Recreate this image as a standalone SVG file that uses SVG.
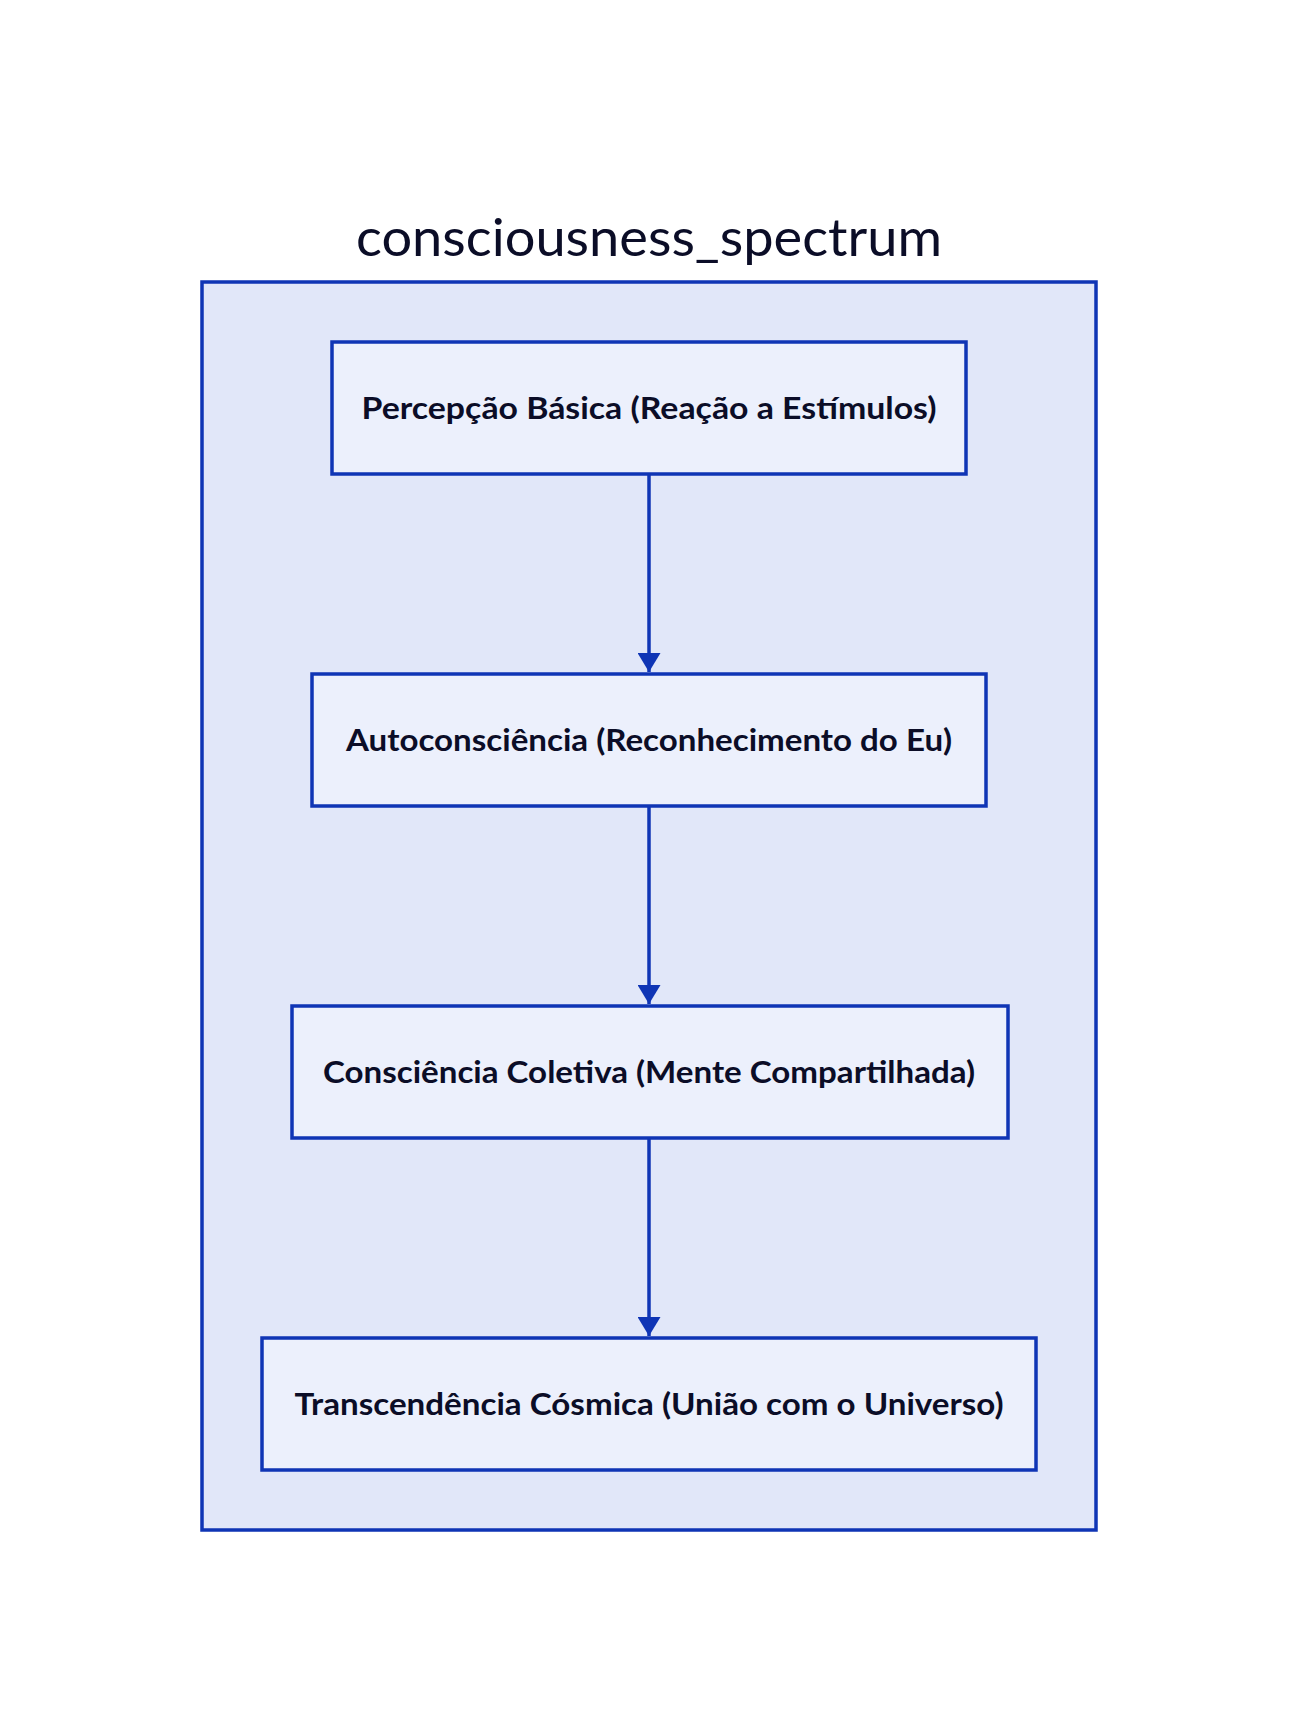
<svg xmlns="http://www.w3.org/2000/svg" width="1298" height="1732" viewBox="0 0 1298 1732">
  <style>
    .bg { fill: #ffffff; }
    .cluster { fill: #e1e7f9; stroke: #0f35b5; stroke-width: 3.5; }
    .node rect { fill: #ecf0fc; stroke: #0f35b5; stroke-width: 3.5; }
    .node text { font-family: Lato, "Noto Sans", "Liberation Sans", sans-serif; font-weight: 700; font-size: 31px; fill: #0b0d27; text-anchor: middle; }
    .title { font-family: Lato, "Noto Sans", "Liberation Sans", sans-serif; font-weight: 400; font-size: 52px; fill: #0b0d27; text-anchor: middle; }
    .edge { stroke: #0f35b5; stroke-width: 3.5; fill: none; }
  </style>
  <defs>
    <marker id="arrow" markerUnits="userSpaceOnUse" viewBox="0 0 19 23" markerWidth="19" markerHeight="23" refX="19" refY="11.5" orient="auto">
      <path d="M0,0 L19,11.5 L0,23 z" fill="#0f35b5"/>
    </marker>
  </defs>
  <rect class="bg" x="0" y="0" width="1298" height="1732"/>
  <g id="cluster_consciousness_spectrum">
    <rect class="cluster" x="202" y="282" width="894" height="1248"/>
    <text class="title" x="649" y="256" textLength="586" lengthAdjust="spacingAndGlyphs">consciousness_spectrum</text>
  </g>
  <g id="connectors">
    <line class="edge" x1="649" y1="475" x2="649" y2="672" marker-end="url(#arrow)"/>
    <line class="edge" x1="649" y1="807" x2="649" y2="1004" marker-end="url(#arrow)"/>
    <line class="edge" x1="649" y1="1139" x2="649" y2="1336" marker-end="url(#arrow)"/>
  </g>
  <g id="node1" class="node">
    <rect x="332" y="342" width="634" height="132"/>
    <text x="649" y="419" textLength="575" lengthAdjust="spacingAndGlyphs">Percepção Básica (Reação a Estímulos)</text>
  </g>
  <g id="node2" class="node">
    <rect x="312" y="674" width="674" height="132"/>
    <text x="649" y="751" textLength="606" lengthAdjust="spacingAndGlyphs">Autoconsciência (Reconhecimento do Eu)</text>
  </g>
  <g id="node3" class="node">
    <rect x="292" y="1006" width="716" height="132"/>
    <text x="649" y="1083" textLength="652" lengthAdjust="spacingAndGlyphs">Consciência Coletiva (Mente Compartilhada)</text>
  </g>
  <g id="node4" class="node">
    <rect x="262" y="1338" width="774" height="132"/>
    <text x="649" y="1415" textLength="709" lengthAdjust="spacingAndGlyphs">Transcendência Cósmica (União com o Universo)</text>
  </g>
</svg>
